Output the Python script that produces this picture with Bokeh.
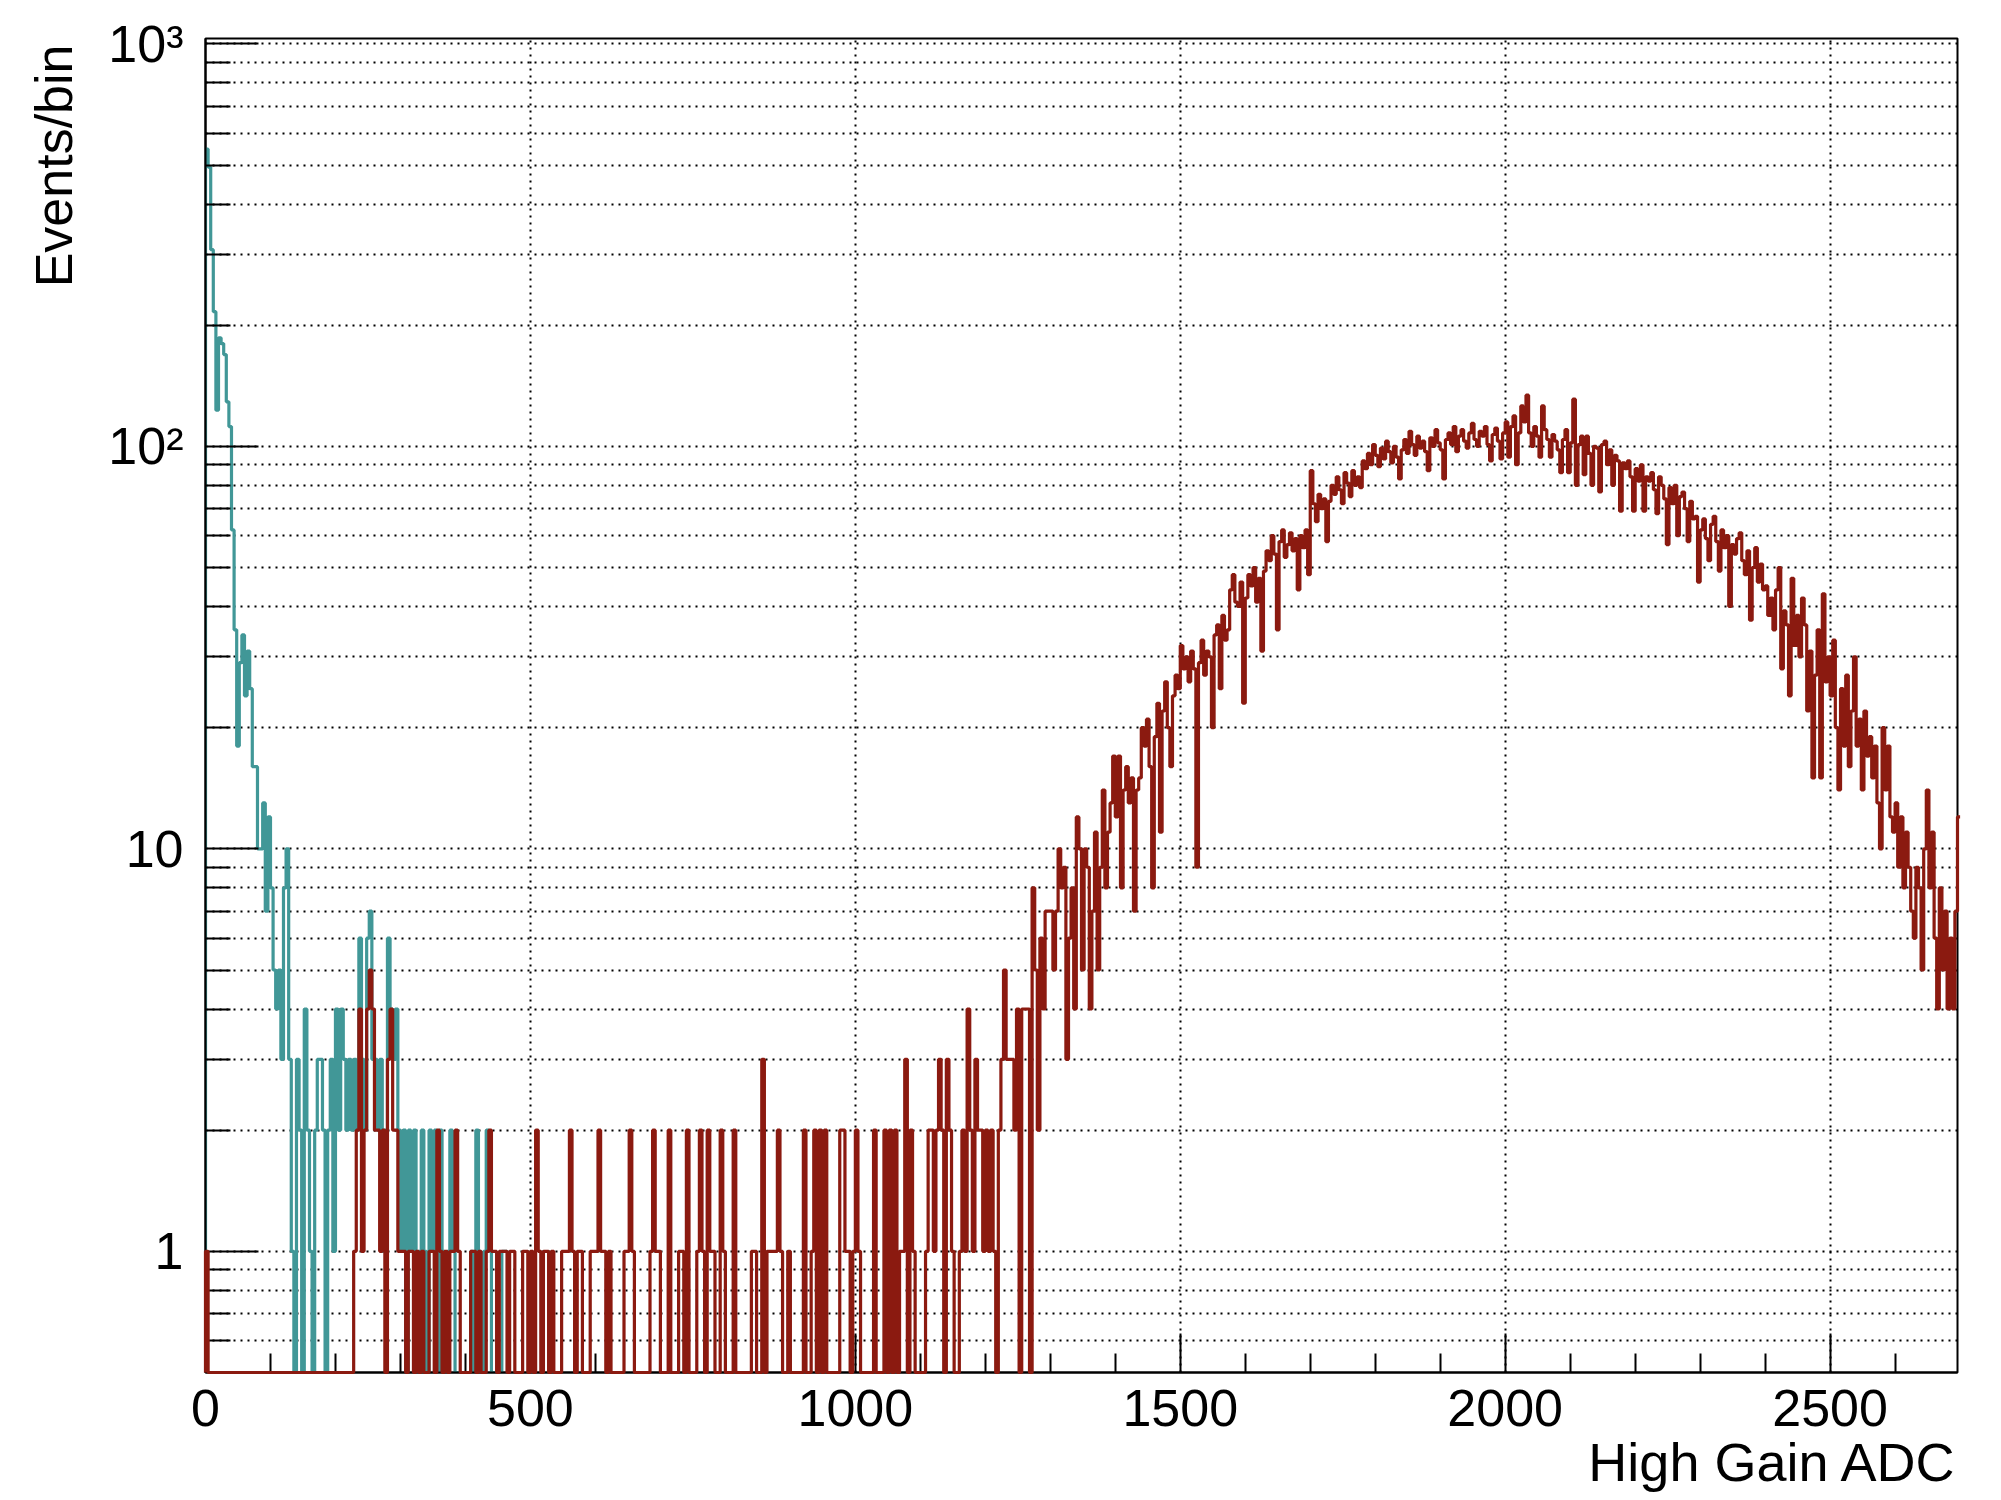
import numpy as np
from bokeh.plotting import figure
from bokeh.models import FixedTicker, Range1d, Title
from bokeh.embed import file_html
from bokeh.resources import INLINE

# ---------------- data (counts per 4-ADC bin) ----------------
BIN_WIDTH = 4
X_START, X_END = 0, 2696
Y_START, Y_END = 0.5, 1031

x_major_ticks = [0, 500, 1000, 1500, 2000, 2500]
x_minor_ticks = [v for v in range(100, 2700, 100) if v % 500 != 0]
y_major_ticks = [1, 10, 100, 1000]
y_major_labels = ["1", "10", "10\u00b2", "10\u00b3"]
y_minor_ticks = [0.6, 0.7, 0.8, 0.9, 2, 3, 4, 5, 6, 7, 8, 9,
                 20, 30, 40, 50, 60, 70, 80, 90, 200, 300, 400, 500, 600, 700, 800, 900]
x_title = "High Gain ADC"
y_title = "Events/bin"

# teal histogram, bins from ADC 0 (all later bins are empty)
teal_counts = [
    548, 494, 308, 216, 123, 186, 180, 169, 129, 112, 62, 35, 18, 29, 34, 24, 31, 25, 16, 16,
    10, 10, 13, 7, 12, 8, 5, 4, 5, 3, 8, 10, 3, 1, 0, 3, 2, 0, 4, 2,
    1, 0, 2, 3, 3, 2, 0, 2, 3, 1, 4, 2, 4, 3, 2, 3, 2, 3, 2, 6,
    3, 2, 6, 7, 3, 3, 2, 3, 1, 2, 6, 4, 3, 4, 2, 1, 2, 0, 2, 1,
    2, 0, 1, 2, 1, 0, 2, 1, 2, 0, 2, 1, 0, 1, 2, 1, 0, 0, 0, 0,
    0, 0, 1, 0, 2, 1, 0, 1, 2, 1, 0, 0, 0, 0, 1, 1,
]

# dark-red histogram: ADC 0-228
red_low = [1] + [0] * 56
# ADC 228-1272 (sparse tail)
red_tail = [
    1, 2, 4, 1, 2, 4, 5, 4, 2, 2, 1, 2, 0, 3, 4, 2, 2, 1,
    1, 1, 0, 1, 1, 0, 1, 0, 1, 0, 0, 1, 1, 0, 2, 1, 0, 1, 0, 1, 1, 2, 1, 0, 0,
    0, 0, 1, 1, 0, 1, 0, 0, 1, 2, 1, 1, 0, 1, 1, 1, 0, 1, 1, 0, 0, 0, 1, 1, 0,
    1, 0, 2, 1, 0, 1, 1, 0, 1, 0, 0, 0, 1, 1, 1, 2, 1, 0, 1, 1, 0, 0, 0, 1, 1,
    1, 2, 1, 1, 0, 1, 0, 0, 0, 0, 0, 1, 1, 2, 1, 0, 0, 0, 0, 0, 0, 1, 2, 1, 1,
    0, 0, 0, 2, 0, 0, 0, 1, 1, 0, 2, 0, 0, 0, 1, 2, 1, 0, 2, 1, 1, 0, 0, 2, 1,
    0, 0, 0, 2, 0, 0, 0, 0, 0, 0, 1, 1, 0, 0, 3, 0, 1, 1, 1, 1, 2, 1, 0, 0, 1,
    0, 0, 0, 0, 0, 2, 0, 0, 1, 2, 0, 2, 0, 2, 0, 0, 0, 0, 0, 2, 2, 1, 1, 0, 1,
    2, 1, 0, 0, 0, 0, 0, 2, 0, 0, 0, 2, 0, 2, 0, 2, 0, 1, 1, 3, 0, 2, 1, 0, 0,
    0, 0, 1, 2, 2, 1, 2, 3, 2, 0, 3, 2, 1, 0, 0, 1, 2, 1, 4, 2, 1, 3, 2, 2, 1,
    2, 1, 2, 1, 0, 2, 3, 5, 3, 3, 3, 2, 4, 0, 4, 4, 4, 0,
]
# ADC 1272-2700 (main peak)
red_peak = [
    8, 5, 2, 6, 4, 7, 7,
    7, 5, 7, 10, 8, 9, 3, 6, 8, 4, 12, 10, 5, 10, 9, 4, 7, 11, 5, 9, 14, 8, 11, 13, 17,
    12, 17, 8, 14, 16, 13, 15, 7, 14, 15, 20, 18, 21, 16, 8, 19, 23, 11, 22, 26, 20, 16, 24, 27, 25,
    32, 28, 30, 26, 31, 28, 9, 29, 33, 27, 31, 30, 20, 34, 36, 25, 38, 33, 35, 44, 48, 41, 40, 46, 23,
    42, 48, 45, 50, 41, 47, 31, 49, 55, 52, 60, 54, 35, 58, 62, 53, 57, 61, 55, 59, 44, 60, 56, 62, 48,
    87, 72, 65, 76, 70, 74, 58, 73, 80, 76, 84, 78, 72, 86, 81, 75, 87, 80, 84, 79, 92, 88, 96, 90, 101,
    95, 89, 99, 93, 103, 97, 91, 100, 94, 83, 98, 104, 96, 109, 101, 95, 106, 99, 103, 97, 87, 105, 100, 110, 102,
    98, 83, 104, 108, 101, 112, 97, 106, 110, 103, 99, 108, 114, 104, 100, 109, 106, 112, 101, 92, 107, 111, 103, 93, 108,
    115, 94, 112, 119, 90, 108, 126, 115, 134, 108, 100, 112, 106, 94, 126, 110, 104, 94, 107, 103, 98, 86, 104, 110, 86,
    102, 131, 80, 101, 106, 85, 106, 96, 80, 100, 99, 77, 101, 103, 90, 98, 80, 95, 92, 69, 91, 88, 92, 84, 69,
    88, 82, 90, 69, 84, 82, 86, 78, 68, 84, 80, 74, 57, 79, 72, 80, 60, 75, 77, 70, 58, 73, 66, 67, 46,
    62, 66, 59, 52, 64, 67, 58, 49, 62, 56, 60, 40, 57, 54, 59, 61, 52, 48, 55, 37, 50, 56, 46, 51, 44,
    45, 38, 42, 35, 44, 50, 28, 39, 36, 24, 47, 32, 38, 30, 42, 36, 22, 31, 15, 27, 35, 15, 43, 26, 30,
    24, 33, 20, 14, 25, 18, 27, 16, 22, 30, 18, 21, 14, 22, 17, 19, 15, 18, 13, 10, 20, 14, 18, 12, 11,
    13, 9, 12, 8, 11, 9, 7, 6, 9, 8, 5, 10, 14, 8, 11, 6, 4, 8, 5, 7, 4, 6, 4, 7, 12,
]
red_counts = red_low + red_tail + red_peak

TEAL = "#419797"
RED = "#8b1a10"
FONT = "Liberation Sans"


def outline(counts):
    """ROOT-style histogram outline; empty bins drawn on the bottom of the frame."""
    edges = np.arange(len(counts) + 1) * BIN_WIDTH
    c = np.maximum(np.asarray(counts, dtype=float), Y_START)
    xs = np.concatenate([[edges[0]], np.repeat(edges, 2)[1:-1]])
    ys = np.concatenate([[Y_START], np.repeat(c, 2)])
    return xs, ys


p = figure(
    frame_width=1752, frame_height=1334,
    x_range=Range1d(X_START, X_END), y_range=Range1d(Y_START, Y_END),
    y_axis_type="log", output_backend="svg", toolbar_location=None,
    min_border_left=204, min_border_top=38, min_border_right=36, min_border_bottom=0,
)
p.toolbar.logo = None
p.background_fill_color = "white"
p.border_fill_color = "white"
p.outline_line_color = "black"
p.outline_line_width = 2

tx, ty = outline(teal_counts)
rx, ry = outline(red_counts)
p.line(tx, ty, line_color=TEAL, line_width=3.2)
p.line(rx, ry, line_color=RED, line_width=3.2, level="overlay")

# axes
xt = FixedTicker(ticks=x_major_ticks, minor_ticks=x_minor_ticks)
yt = FixedTicker(ticks=y_major_ticks, minor_ticks=y_minor_ticks)
p.xaxis.ticker = xt
p.yaxis.ticker = yt
p.xgrid.ticker = xt
p.ygrid.ticker = yt
p.yaxis.major_label_overrides = {float(t): s for t, s in zip(y_major_ticks, y_major_labels)}

for ax in (p.xaxis[0], p.yaxis[0]):
    ax.axis_line_color = "black"
    ax.axis_line_width = 2
    ax.major_tick_line_color = "black"
    ax.minor_tick_line_color = "black"
    ax.major_tick_line_width = 2
    ax.minor_tick_line_width = 2
    ax.major_tick_out = 0
    ax.minor_tick_out = 0
    ax.major_label_text_font = FONT
    ax.major_label_text_font_size = "52px"
    ax.major_label_text_color = "black"

p.xaxis.major_tick_in = 39
p.xaxis.minor_tick_in = 19
p.yaxis.major_tick_in = 53
p.yaxis.minor_tick_in = 25
p.xaxis.major_label_standoff = 17
p.yaxis.major_label_standoff = 22

# axis titles, right / top aligned like ROOT
p.add_layout(Title(text=x_title, align="right", text_font=FONT, text_font_size="54px",
                   text_font_style="normal", text_color="black", standoff=2, offset=0), "below")
p.add_layout(Title(text=y_title, align="right", text_font=FONT, text_font_size="52px",
                   text_font_style="normal", text_color="black", standoff=45, offset=6), "left")

# grids: dotted, y at every (major+minor) tick, x only at major ticks
p.xgrid.grid_line_color = "black"
p.xgrid.grid_line_width = 2
p.xgrid.grid_line_dash = "2 5"
p.ygrid.grid_line_color = "black"
p.ygrid.grid_line_width = 2
p.ygrid.grid_line_dash = "2 5"
p.ygrid.minor_grid_line_color = "black"
p.ygrid.minor_grid_line_width = 2
p.ygrid.minor_grid_line_dash = "2 5"

open("out.html", "w").write(file_html(p, INLINE))
